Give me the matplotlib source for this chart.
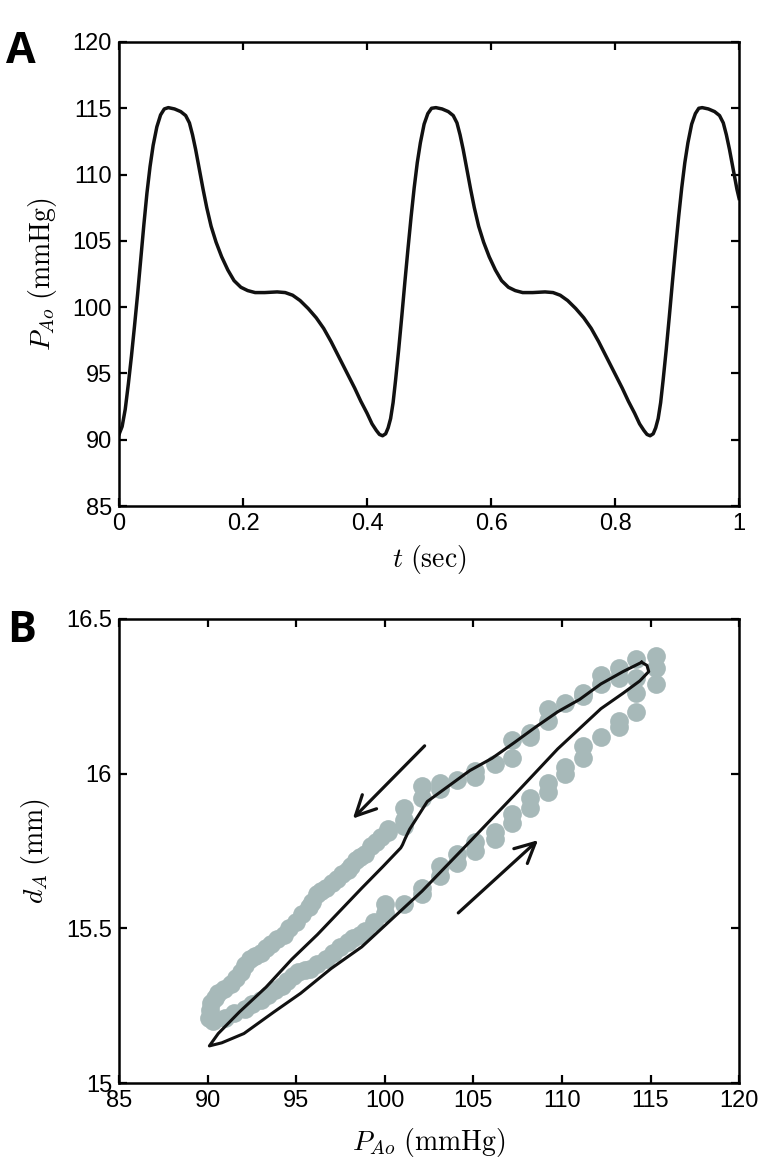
import numpy as np
import matplotlib.pyplot as plt

# Panel A: aortic pressure over time
t_sec = [0.000, 0.005, 0.010, 0.015, 0.020, 0.025, 0.030, 0.035, 0.040, 0.045,
         0.050, 0.055, 0.061, 0.067, 0.073, 0.0795, 0.0895, 0.0995, 0.1075, 0.1135,
         0.1185, 0.1235, 0.1295, 0.1355, 0.1415, 0.1485, 0.1565, 0.1655, 0.1755, 0.1855,
         0.1965, 0.2075, 0.2195, 0.235, 0.255, 0.268, 0.280, 0.292, 0.305, 0.318,
         0.330, 0.342, 0.355, 0.368, 0.380, 0.390, 0.400, 0.408, 0.415, 0.420,
         0.425, 0.430, 0.434, 0.438, 0.442, 0.446, 0.451, 0.456, 0.461, 0.466,
         0.471, 0.476, 0.481, 0.486, 0.492, 0.498, 0.504, 0.511, 0.521, 0.531,
         0.539, 0.545, 0.550, 0.555, 0.561, 0.567, 0.573, 0.580, 0.588, 0.597,
         0.607, 0.617, 0.628, 0.639, 0.651, 0.667, 0.687, 0.700, 0.7115, 0.7235,
         0.7365, 0.7495, 0.7615, 0.7735, 0.7865, 0.7995, 0.8115, 0.8215, 0.8315, 0.8395,
         0.8465, 0.8515, 0.8565, 0.8615, 0.8655, 0.8695, 0.8735, 0.8775, 0.8825, 0.8875,
         0.8925, 0.8975, 0.9025, 0.9075, 0.9125, 0.9175, 0.9235, 0.9295, 0.9350, 0.9405,
         0.9505, 0.9605, 0.9685, 0.9745, 0.9795, 0.9845, 0.9905, 0.9965, 1.000]
p_ao = [90.4, 91.0, 92.3, 94.2, 96.3, 98.6, 101.0, 103.6, 106.2, 108.6,
        110.6, 112.2, 113.6, 114.5, 114.95, 115.05, 114.95, 114.75, 114.45, 113.9,
        113.0, 111.9, 110.4, 108.9, 107.5, 106.1, 104.9, 103.8, 102.8, 102.0,
        101.5, 101.25, 101.1, 101.1, 101.15, 101.1, 100.9, 100.5, 99.9, 99.2,
        98.4, 97.4, 96.2, 95.0, 93.9, 92.9, 92.0, 91.2, 90.7, 90.4,
        90.3, 90.45, 90.9, 91.6, 92.8, 94.5, 96.8, 99.3, 101.9, 104.4,
        106.8, 109.0, 110.9, 112.4, 113.8, 114.6, 115.0, 115.05, 114.95, 114.75,
        114.45, 113.9, 113.0, 111.9, 110.4, 108.9, 107.5, 106.1, 104.9, 103.8,
        102.8, 102.0, 101.5, 101.25, 101.1, 101.1, 101.15, 101.1, 100.9, 100.5,
        99.9, 99.2, 98.4, 97.4, 96.2, 95.0, 93.9, 92.9, 92.0, 91.2,
        90.7, 90.4, 90.3, 90.45, 90.9, 91.6, 92.8, 94.5, 96.8, 99.3,
        101.9, 104.4, 106.8, 109.0, 110.9, 112.4, 113.8, 114.6, 115.0, 115.05,
        114.95, 114.75, 114.45, 113.9, 113.0, 111.9, 110.4, 108.9, 108.2]

# Panel B: measured points (grey)
meas_p = [115.3, 115.3, 115.3, 114.2, 114.2, 113.2, 113.2, 112.2, 112.2, 111.2,
          111.2, 110.2, 109.2, 109.2, 108.2, 108.2, 107.2, 107.2, 106.2, 105.1,
          105.1, 104.1, 103.1, 103.1, 102.1, 102.1, 101.1, 101.1, 101.1, 100.2,
          100.2, 99.8, 99.5, 99.2, 98.9, 98.6, 98.4, 98.1, 97.9, 97.6,
          97.3, 97.0, 96.7, 96.4, 96.2, 95.9, 95.7, 95.3, 95.0, 94.6,
          94.3, 93.9, 93.6, 93.3, 93.0, 92.7, 92.4, 92.1, 91.9, 91.6,
          91.3, 90.9, 90.6, 90.4, 90.2, 90.15, 90.1, 90.3,
          91.0, 91.5, 92.1, 92.5, 93.0, 93.4, 93.8, 94.2, 94.5, 94.8,
          95.1, 95.5, 95.8, 96.2, 96.7, 97.1, 97.5, 97.9, 98.2, 98.6,
          98.9, 99.4, 100.0, 100.0, 101.1, 102.1, 102.1, 103.1, 103.1, 104.1,
          104.1, 105.1, 105.1, 106.2, 106.2, 107.2, 107.2, 108.2, 108.2, 109.2,
          109.2, 110.2, 110.2, 111.2, 111.2, 112.2, 113.2, 113.2, 114.2, 114.2]
meas_d = [16.38, 16.34, 16.29, 16.37, 16.31, 16.34, 16.31, 16.32, 16.29, 16.26,
          16.25, 16.23, 16.21, 16.17, 16.13, 16.12, 16.11, 16.05, 16.03, 16.01,
          15.99, 15.98, 15.97, 15.95, 15.96, 15.92, 15.89, 15.85, 15.83, 15.82,
          15.81, 15.795, 15.78, 15.765, 15.74, 15.73, 15.72, 15.70, 15.69, 15.675,
          15.66, 15.645, 15.63, 15.62, 15.61, 15.585, 15.57, 15.545, 15.52, 15.50,
          15.48, 15.465, 15.45, 15.435, 15.42, 15.41, 15.40, 15.38, 15.36, 15.34,
          15.32, 15.305, 15.29, 15.275, 15.26, 15.235, 15.21, 15.20,
          15.21, 15.225, 15.24, 15.255, 15.27, 15.285, 15.30, 15.315, 15.33, 15.345,
          15.36, 15.365, 15.37, 15.385, 15.40, 15.42, 15.44, 15.455, 15.47, 15.48,
          15.49, 15.52, 15.55, 15.58, 15.58, 15.61, 15.63, 15.67, 15.70, 15.71,
          15.74, 15.75, 15.78, 15.79, 15.81, 15.84, 15.87, 15.89, 15.92, 15.94,
          15.97, 16.00, 16.02, 16.05, 16.09, 16.12, 16.15, 16.17, 16.20, 16.26]

# Panel B: model loop (black)
model_p = [114.5, 113.45, 112.2, 111.0, 109.76, 108.5, 107.3, 106.06, 104.8, 103.6,
           102.4, 101.4, 101.15, 101.0, 100.9, 99.9, 98.7, 97.7, 96.2, 94.75,
           93.3, 91.8, 90.6, 90.1, 90.8, 92.05, 93.75, 95.25, 96.97, 98.7,
           100.4, 102.1, 104.8, 107.3, 109.76, 112.2, 113.45, 114.4, 114.9,
           114.8, 114.5]
model_d = [16.36, 16.33, 16.29, 16.24, 16.20, 16.15, 16.10, 16.05, 16.01, 15.96,
           15.91, 15.82, 15.79, 15.77, 15.76, 15.70, 15.63, 15.57, 15.48, 15.40,
           15.31, 15.23, 15.16, 15.12, 15.13, 15.16, 15.23, 15.29, 15.37, 15.44,
           15.53, 15.62, 15.78, 15.93, 16.08, 16.21, 16.26, 16.30, 16.33,
           16.35, 16.36]

# arrows: (tail P, tail d, head P, head d)
arrow_down = (102.25, 16.09, 98.2, 15.855)
arrow_up = (104.15, 15.55, 108.65, 15.785)

plt.rcParams['font.family'] = ['Liberation Sans', 'DejaVu Sans']
plt.rcParams['mathtext.fontset'] = 'cm'

fig = plt.figure(figsize=(7.77, 11.73), dpi=100)
axA = fig.add_axes([0.1532, 0.5686, 0.798, 0.3956])
axB = fig.add_axes([0.1532, 0.0767, 0.798, 0.3956])

for ax in (axA, axB):
    for s in ax.spines.values():
        s.set_linewidth(1.8)
    ax.tick_params(direction='in', length=6, width=1.6, top=True, right=True,
                   labelsize=17, pad=5)

axA.plot(t_sec, p_ao, color='#111111', lw=2.5)
axA.set_xlim(0, 1)
axA.set_ylim(85, 120)
axA.set_xticks([0, 0.2, 0.4, 0.6, 0.8, 1])
axA.set_xticklabels(['0', '0.2', '0.4', '0.6', '0.8', '1'])
axA.set_yticks(range(85, 121, 5))
axA.set_xlabel(r'$t\ \mathrm{(sec)}$', fontsize=20, labelpad=6)
axA.set_ylabel(r'$P_{Ao}\ \mathrm{(mmHg)}$', fontsize=20, labelpad=10)

axB.plot(meas_p, meas_d, 'o', color='#a7b9b9', ms=13.5, mec='none', zorder=2)
axB.plot(model_p, model_d, color='#111111', lw=2.2, zorder=3)
for a in (arrow_down, arrow_up):
    axB.annotate('', xy=(a[2], a[3]), xytext=(a[0], a[1]),
                 arrowprops=dict(arrowstyle='->', lw=2.3, color='#111111',
                                 mutation_scale=36, shrinkA=0, shrinkB=0))
axB.set_xlim(85, 120)
axB.set_ylim(15, 16.5)
axB.set_xticks(range(85, 121, 5))
axB.set_yticks([15, 15.5, 16, 16.5])
axB.set_yticklabels(['15', '15.5', '16', '16.5'])
axB.set_xlabel(r'$P_{Ao}\ \mathrm{(mmHg)}$', fontsize=20, labelpad=10)
axB.set_ylabel(r'$d_A\ \mathrm{(mm)}$', fontsize=20, labelpad=10)

fig.text(0.008, 0.974, 'A', fontsize=31, fontweight='bold', family='Open Sans', va='top')
fig.text(0.009, 0.481, 'B', fontsize=31, fontweight='bold', family='Open Sans', va='top')

fig.savefig('out.png', dpi=100)
